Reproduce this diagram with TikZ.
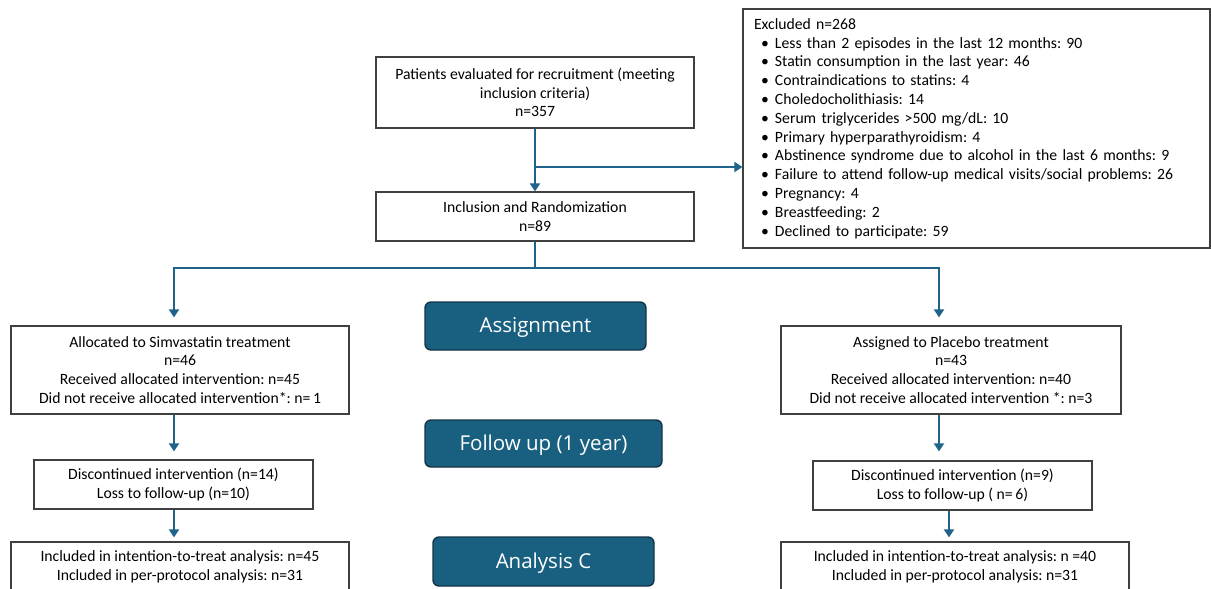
\documentclass[tikz,border=0pt]{standalone}
\usepackage{fontspec}
\setmainfont{Carlito}
\newfontfamily\phasefam{Open Sans}
\usetikzlibrary{arrows.meta}
\frenchspacing
\definecolor{arrowblue}{RGB}{31,99,138}
\definecolor{phasefill}{RGB}{25,95,128}
\definecolor{phaseborder}{RGB}{18,52,70}
\definecolor{boxgray}{RGB}{64,64,64}
\newcommand{\boxfont}{\fontsize{15.7}{18.8}\selectfont}
\newcommand{\bul}{\hspace*{7pt}\makebox[14pt][l]{\textbullet}}
\tikzset{
  box/.style={draw=boxgray, line width=1.2pt, fill=white, align=center, inner sep=0pt, font=\boxfont},
  phase/.style={draw=phaseborder, fill=phasefill, rounded corners=6pt, line width=1.4pt,
    text=white, font=\phasefam\fontsize{20.5}{24}\selectfont, inner sep=0pt, text depth=1.5pt},
  arr/.style={draw=arrowblue, line width=2pt, -{Triangle[width=10pt,length=8pt]}},
  ln/.style={draw=arrowblue, line width=2pt}
}
\begin{document}
\begin{tikzpicture}[x=1pt,y=1pt]
\useasboundingbox (0,0) rectangle (1211,-589);
\clip (0,0) rectangle (1211,-589);
% main boxes
\node[box, minimum width=318pt, minimum height=71pt] (top) at (535,-92.5)
  {Patients evaluated for recruitment (meeting\\inclusion criteria)\\n=357};
\node[box, minimum width=318pt, minimum height=49pt] (incl) at (535,-216.5)
  {Inclusion and Randomization\\n=89};
\node[box, minimum width=467pt, minimum height=239pt, text width=445pt, align=left] (excl) at (976.5,-128.5)
  {Excluded n=268\\
  \bul Less than 2 episodes in the last 12 months: 90\\
  \bul Statin consumption in the last year: 46\\
  \bul Contraindications to statins: 4\\
  \bul Choledocholithiasis: 14\\
  \bul Serum triglycerides >500 mg/dL: 10\\
  \bul Primary hyperparathyroidism: 4\\
  \bul Abstinence syndrome due to alcohol in the last 6 months: 9\\
  \bul Failure to attend follow-up medical visits/social problems: 26\\
  \bul Pregnancy: 4\\
  \bul Breastfeeding: 2\\
  \bul Declined to participate: 59};
% left arm
\node[box, minimum width=338pt, minimum height=88pt] (L1) at (180,-370)
  {Allocated to Simvastatin treatment\\n=46\\Received allocated intervention: n=45\\Did not receive allocated intervention*: n=\,1};
\node[box, minimum width=279pt, minimum height=49pt] (L2) at (173.5,-484.5)
  {Discontinued intervention (n=14)\\Loss to follow-up (n=10)};
\node[box, minimum width=338pt, minimum height=49pt] (L3) at (180,-566.5)
  {Included in intention-to-treat analysis: n=45\\Included in per-protocol analysis: n=31};
% right arm
\node[box, minimum width=340pt, minimum height=88pt] (R1) at (951,-370)
  {Assigned to Placebo treatment\\n=43\\Received allocated intervention: n=40\\Did not receive allocated intervention *: n=3};
\node[box, minimum width=279pt, minimum height=49pt] (R2) at (952.5,-485.5)
  {Discontinued intervention (n=9)\\Loss to follow-up ( n=\,6)};
\node[box, minimum width=348pt, minimum height=49pt] (R3) at (955,-566.5)
  {Included in intention-to-treat analysis: n =40\\Included in per-protocol analysis: n=31};
% phase labels
\node[phase, minimum width=221pt, minimum height=48pt] (assign) at (535.5,-326) {Assignment};
\node[phase, minimum width=237pt, minimum height=47pt] (follow) at (543.5,-443.5) {Follow up (1 year)};
\node[phase, minimum width=221pt, minimum height=49pt] (analysis) at (543.5,-561.5) {Analysis C};
% connectors
\coordinate (b1) at (535,-167);
\coordinate (jm) at (535,-268);
\coordinate (jl) at (174,-268);
\coordinate (jr) at (939,-268);
\coordinate (xr) at (949,0);
\draw[arr] (top) -- (incl);
\draw[arr] (b1) -- (b1 -| excl.west);
\draw[ln] (incl.south) -- (jm);
\draw[ln, line cap=rect] (jl) -- (jr);
\draw[arr] (jl) -- ([yshift=8pt]jl |- L1.north);
\draw[arr] (jr) -- ([yshift=8pt]jr |- R1.north);
\draw[arr] (jl |- L1.south) -- ([yshift=8pt]jl |- L2.north);
\draw[arr] (jl |- L2.south) -- ([yshift=4pt]jl |- L3.north);
\draw[arr] (jr |- R1.south) -- ([yshift=9pt]jr |- R2.north);
\draw[arr] (xr |- R2.south) -- ([yshift=4pt]xr |- R3.north);
\end{tikzpicture}
\end{document}
